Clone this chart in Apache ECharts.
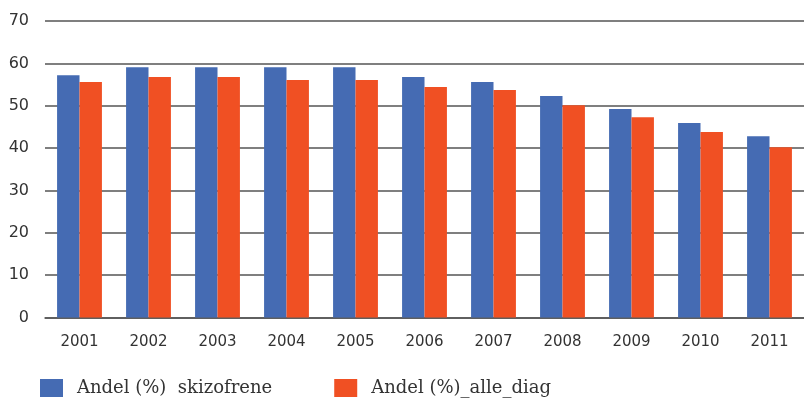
<!DOCTYPE html>
<html>
<head>
<meta charset="utf-8">
<script src="https://cdn.jsdelivr.net/npm/echarts@6/dist/echarts.min.js"></script>
<style>html,body{margin:0;padding:0;background:#fff}#c{width:804px;height:400px}</style>
</head>
<body>
<div id="c"></div>
<script>
const years = ['2001','2002','2003','2004','2005','2006','2007','2008','2009','2010','2011'];
const skizofrene = [57.2, 59.1, 59.1, 59.1, 59.1, 56.8, 55.6, 52.3, 49.2, 45.9, 42.8];
const alleDiag = [55.6, 56.8, 56.8, 56.1, 56.1, 54.4, 53.7, 50.1, 47.3, 43.8, 40.2];
const seriesNames = ['Andel (%)  skizofrene', 'Andel (%)_alle_diag'];

const chart = echarts.init(document.getElementById('c'));
chart.setOption({
  animation: false,
  grid: {left: 45, right: -3, top: 21, bottom: 82.5, containLabel: false},
  legend: {
    data: seriesNames,
    left: 40, bottom: 3, padding: 0,
    itemWidth: 23, itemHeight: 18, itemGap: 62,
    icon: 'rect',
    textStyle: {fontFamily: 'DejaVu Serif', fontSize: 18, color: '#333', padding: [0, 0, 0, 9]}
  },
  xAxis: {
    type: 'category', data: years,
    axisTick: {show: false},
    axisLine: {lineStyle: {color: '#555', width: 1.5}},
    axisLabel: {fontFamily: 'DejaVu Sans', fontSize: 15, color: '#333', margin: 17}
  },
  yAxis: {
    type: 'value', min: 0, max: 70, interval: 10,
    axisLabel: {fontFamily: 'DejaVu Sans', fontSize: 16, color: '#333', margin: 16},
    splitLine: {lineStyle: {color: '#555', width: 1.5}}
  },
  series: [
    {name: seriesNames[0], type: 'bar', data: skizofrene, itemStyle: {color: '#456bb3'}, barGap: '0%', barCategoryGap: '35%'},
    {name: seriesNames[1], type: 'bar', data: alleDiag, itemStyle: {color: '#f05023'}}
  ]
});
</script>
</body>
</html>
